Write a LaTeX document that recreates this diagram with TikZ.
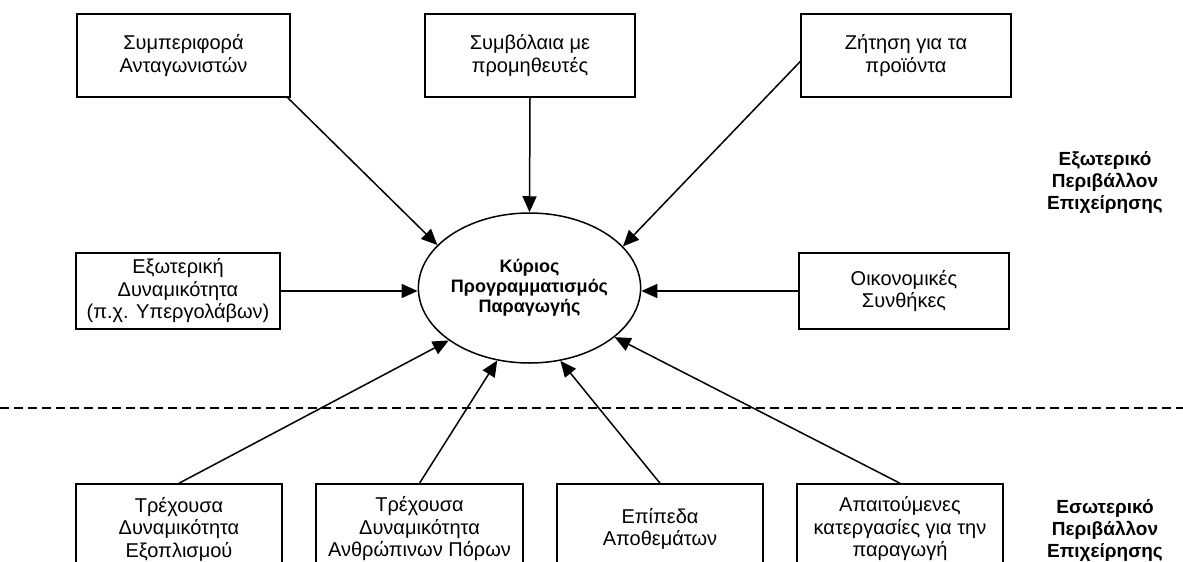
\documentclass[tikz,border=0pt]{standalone}
\usepackage{fontspec}
\setmainfont{Liberation Sans}
\usetikzlibrary{shapes.geometric, arrows.meta}

\begin{document}
\begin{tikzpicture}[x=1pt, y=-1pt]
				\tikzstyle{every node}=[inner sep=0pt, align=center, font=\fontsize{20}{22.5}\selectfont]
				\tikzstyle{box}=[draw, line width=1.5pt, minimum width=210pt, minimum height=83pt]
				\tikzstyle{arr}=[line width=1.5pt, -{Triangle[length=16pt, width=14pt]}]
				\useasboundingbox (0, 0) rectangle (1183, 562);
				\node[draw, ellipse, line width=1.5pt, minimum width=166pt, minimum height=150pt, font=\fontsize{18}{20}\selectfont\bfseries] (main) at (529.5, 288) {Κύριος\\Προγραμματισμός\\Παραγωγής};
				% external
				\node[box, minimum width=213pt] (TL) at (183.5, 55.5) {Συμπεριφορά\\Ανταγωνιστών};
				\node[box] (TC) at (530, 55.5) {Συμβόλαια με\\προμηθευτές};
				\node[box] (TR) at (906, 55.5) {Ζήτηση για τα\\προϊόντα};
				\node[box, minimum width=204pt, minimum height=76pt] (ML) at (178, 291) {Εξωτερική\\Δυναμικότητα\\(π.χ. Υπεργολάβων)};
				\node[box, minimum height=76pt] (MR) at (904, 291) {Οικονομικές\\Συνθήκες};
				% internal
				\node[box, minimum width=206pt, minimum height=90pt] (B1) at (179, 529) {Τρέχουσα\\Δυναμικότητα\\Εξοπλισμού};
				\node[box, minimum width=207pt, minimum height=90pt] (B2) at (419.5, 529) {Τρέχουσα\\Δυναμικότητα\\Ανθρώπινων Πόρων};
				\node[box, minimum width=206pt, minimum height=90pt] (B3) at (660, 529) {Επίπεδα\\Αποθεμάτων};
				\node[box, minimum width=206pt, minimum height=90pt] (B4) at (900, 529) {Απαιτούμενες\\κατεργασίες για την\\παραγωγή};
				\node[font=\fontsize{19}{22}\selectfont\bfseries] (ext) at (1105, 182) {Εξωτερικό\\Περιβάλλον\\Επιχείρησης};
				\node[font=\fontsize{19}{22}\selectfont\bfseries] (int) at (1105, 530) {Εσωτερικό\\Περιβάλλον\\Επιχείρησης};
				\draw [dashed, line width=1.5pt, dash pattern=on 9pt off 5pt] (0, 408) -- (1183, 408);
				\draw [arr] ([xshift=-3pt]TL.south east) -- (main.155);
				\draw [arr] (TC.south) -- (main.north);
				\draw [arr] ([yshift=-6pt]TR.west) -- (main.24);
				\draw [arr] (ML.east) -- (ML.east -| main.west);
				\draw [arr] (MR.west) -- (MR.west -| main.east);
				\draw [arr] (B1.north) -- (main.213);
				\draw [arr] (B2.north) -- (main.246);
				\draw [arr] (B3.north) -- (main.293);
				\draw [arr] (B4.north) -- (main.330);
		\end{tikzpicture}
\end{document}
